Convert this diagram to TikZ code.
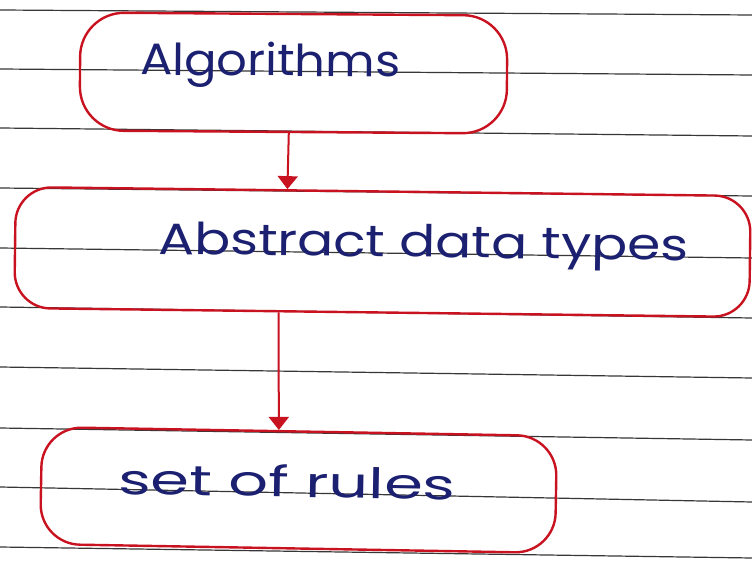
\documentclass[tikz,border=0pt]{standalone}
\usepackage{graphicx}
\usepackage{fontspec}
\setmainfont{Poppins}
\usetikzlibrary{arrows.meta,calc}
\definecolor{ink}{RGB}{28,32,112}
\definecolor{redpen}{RGB}{200,18,32}
\definecolor{rule}{RGB}{55,55,55}
\tikzset{
  ruling/.style={draw=rule, line width=1.2pt},
  penbox/.style={draw=redpen, line width=2.4pt, rectangle, inner sep=0pt},
  hand/.style={text=ink, inner sep=0pt, anchor=base west},
  arr/.style={draw=redpen, line width=2pt, -{Triangle[width=20pt,length=13pt]}},
}
\newcommand\handtext[3]{\resizebox{#1pt}{\height}{\fontsize{#2}{#2}\selectfont #3}}
\begin{document}
\begin{tikzpicture}[x=1pt,y=-1pt]
\useasboundingbox[fill=white] (0,0) rectangle (752,561);
% ruled paper
\foreach \a/\b in {10/15,69/75,128/136,188/196,248/258,307/318,367/378,428/440,487/502,547/558}
  \draw[ruling] (0,\a) -- (752,\b);
% boxes
\node[penbox, rounded corners=44pt, minimum width=427pt, minimum height=118pt, rotate=-0.4] (alg) at (293.5,73) {};
\node[penbox, rounded corners=36pt, minimum width=735pt, minimum height=121pt, rotate=-0.7] (adt) at (382.5,252) {};
\node[penbox, rounded corners=40pt, minimum width=515pt, minimum height=117pt, rotate=-1.0] (rules) at (298.5,490) {};
% texts
\node[hand, rotate=-0.4] (t1) at (140,75) {\handtext{260}{44}{Algorithms}};
\node[hand, rotate=-0.7] (t2) at (158,254) {\handtext{530}{44}{Abstract data types}};
\node[hand, rotate=-1.0] (t3) at (118,494) {\handtext{337}{42}{set of rules}};
% connectors
\draw[arr] ($(alg.south west)!0.49!(alg.south east)$) -- ($(adt.north west)!0.37!(adt.north east)$);
\draw[arr] ($(adt.south west)!0.36!(adt.south east)$) -- ($(rules.north west)!0.46!(rules.north east)$);
\end{tikzpicture}
\end{document}
